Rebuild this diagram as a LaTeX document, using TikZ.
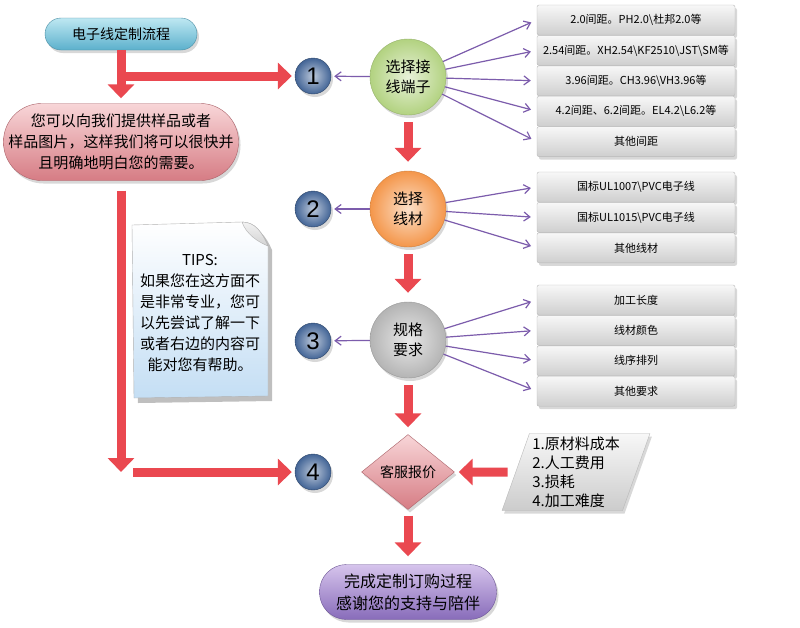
\documentclass[tikz,border=0pt]{standalone}
\usepackage{fontspec}
\setmainfont{Noto Sans CJK SC}
\newfontfamily\numfont{Liberation Sans}
\usetikzlibrary{arrows.meta, positioning, shapes.geometric, shapes.misc, shadows}

\definecolor{arrowred}{RGB}{234,72,80}
\definecolor{linkviolet}{RGB}{124,92,172}
\definecolor{titletop}{RGB}{190,232,242}
\definecolor{titlebot}{RGB}{92,176,204}
\definecolor{notetop}{RGB}{248,214,216}
\definecolor{notebot}{RGB}{214,124,132}
\definecolor{donetop}{RGB}{214,196,236}
\definecolor{donebot}{RGB}{136,108,186}
\definecolor{stagegreen}{RGB}{178,210,128}
\definecolor{stageorange}{RGB}{244,150,74}
\definecolor{stagegray}{RGB}{180,180,180}
\definecolor{numblue}{RGB}{66,100,150}
\definecolor{tipblue}{RGB}{196,222,244}

\begin{document}
\begin{tikzpicture}[x=1pt, y=-1pt,
  softshadow/.style={drop shadow={opacity=0.3, shadow xshift=2pt, shadow yshift=-3pt}},
  pill/.style={rectangle, rounded corners=#1, align=center, inner sep=0pt, softshadow},
  num/.style={circle, minimum size=36pt, inner sep=0pt, inner color=numblue!35!white,
    outer color=numblue, draw=numblue!70!black, softshadow,
    text=black, font=\numfont\fontsize{24}{24}\selectfont},
  stage/.style={circle, minimum size=76pt, inner sep=0pt, inner color=#1!30!white,
    outer color=#1, draw=#1!85!black, softshadow, align=center,
    font=\fontsize{15}{20}\selectfont},
  item/.style={rectangle, rounded corners=2pt, minimum width=198pt, minimum height=30pt,
    inner sep=0pt, top color=gray!6, bottom color=gray!38, draw=gray!55, softshadow,
    font=\fontsize{11}{12}\selectfont},
  redarrow/.style={line width=9pt, draw=arrowred, -{Triangle[width=26pt, length=14pt]}},
  pointer/.style={line width=1.2pt, draw=linkviolet, -{Straight Barb[width=9pt, length=6pt]}}
]
\useasboundingbox[fill=white] (0,0) rectangle (800,627);

\node[pill=16pt, minimum width=152pt, minimum height=32pt, top color=titletop,
  bottom color=titlebot, draw=titlebot!80!black, font=\fontsize{14}{17}\selectfont]
  (title) at (121,34) {电子线定制流程};
\node[pill=38pt, minimum width=235pt, minimum height=77pt, top color=notetop,
  bottom color=notebot, draw=notebot!80!black, font=\fontsize{15}{21}\selectfont]
  (pill) at (121,142) {您可以向我们提供样品或者\\样品图片，这样我们将可以很快并\\且明确地明白您的需要。};

% tips sheet
\begin{scope}
  \fill[black, opacity=0.25] (136,228) -- (245,226) .. controls (258,226) and (266,236) .. (272,250)
    -- (272,401) -- (138,403) -- cycle;
  \shade[top color=white, bottom color=tipblue, draw=gray!60] (132,225) -- (242,222)
    .. controls (255,222) and (262,232) .. (268,246) -- (268,396) -- (134,398) -- cycle;
  \shade[top color=gray!10, bottom color=gray!35, draw=gray!60] (242,222)
    .. controls (246,234) and (258,242) .. (268,246) .. controls (262,232) and (255,222) .. (242,222);
\end{scope}
\node[align=center, font=\fontsize{15}{21}\selectfont] (tips) at (200,313)
  {TIPS:\\如果您在这方面不\\是非常专业，您可\\以先尝试了解一下\\或者右边的内容可\\能对您有帮助。};

\node[num] (n1) at (313,76) {1};
\node[num] (n2) at (313,209) {2};
\node[num] (n3) at (313,341) {3};
\node[num] (n4) at (313,472) {4};

\node[stage=stagegreen] (c1) at (408,77) {选择接\\线端子};
\node[stage=stageorange] (c2) at (408,209) {选择\\线材};
\node[stage=stagegray] (c3) at (408,340) {规格\\要求};
\node[diamond, aspect=1.24, minimum width=93pt, minimum height=75pt, inner sep=0pt,
  top color=notetop, bottom color=notebot, draw=notebot!80!black, softshadow,
  font=\fontsize{14}{17}\selectfont] (quote) at (408,472) {客服报价};
\node[trapezium, trapezium left angle=70, trapezium right angle=110, trapezium stretches=true,
  minimum width=148pt, minimum height=77pt, inner sep=0pt, top color=gray!6,
  bottom color=gray!40, draw=gray!55, softshadow, align=left,
  font=\fontsize{15}{19}\selectfont] (cost) at (576,472)
  {1.原材料成本\\2.人工费用\\3.损耗\\4.加工难度};
\node[pill=27pt, minimum width=177pt, minimum height=55pt, top color=donetop,
  bottom color=donebot, draw=donebot!80!black, font=\fontsize{16}{22}\selectfont]
  (done) at (408,592) {完成定制订购过程\\感谢您的支持与陪伴};

\node[item] (t1) at (636,20) {2.0间距。PH2.0\textbackslash 杜邦2.0等};
\node[item, below=0pt of t1] (t2) {2.54间距。XH2.54\textbackslash KF2510\textbackslash JST\textbackslash SM等};
\node[item, below=0pt of t2] (t3) {3.96间距。CH3.96\textbackslash VH3.96等};
\node[item, below=0pt of t3] (t4) {4.2间距、6.2间距。EL4.2\textbackslash L6.2等};
\node[item, below=0pt of t4] (t5) {其他间距};

\node[item] (w1) at (636,187) {国标UL1007\textbackslash PVC电子线};
\node[item, below=0pt of w1] (w2) {国标UL1015\textbackslash PVC电子线};
\node[item, below=0pt of w2] (w3) {其他线材};

\node[item] (s1) at (636,300) {加工长度};
\node[item, below=0pt of s1] (s2) {线材颜色};
\node[item, below=0pt of s2] (s3) {线序排列};
\node[item, below=0pt of s3] (s4) {其他要求};

\coordinate (split) at (124,76);
\coordinate (turn) at (121,472);

\draw[redarrow, shorten >=5pt] (title) -- (pill);
\draw[redarrow, shorten >=3pt] (split) -- (n1);
\draw[redarrow, shorten <=10pt] (pill) -- (turn);
\draw[redarrow, shorten <=12pt, shorten >=3pt] (turn) -- (n4);
\draw[redarrow, shorten <=7pt, shorten >=9pt] (c1) -- (c2);
\draw[redarrow, shorten <=7pt, shorten >=9pt] (c2) -- (c3);
\draw[redarrow, shorten <=7pt, shorten >=7pt] (c3) -- (quote);
\draw[redarrow, shorten <=6pt, shorten >=8pt] (quote) -- (done);
\draw[redarrow, shorten <=8pt, shorten >=4pt] (cost) -- (quote);

\foreach \i in {1,...,5} \draw[pointer, shorten >=6pt] (c1) -- (t\i.west);
\foreach \i in {1,2,3} \draw[pointer, shorten >=6pt] (c2) -- (w\i.west);
\foreach \i in {1,...,4} \draw[pointer, shorten >=6pt] (c3) -- (s\i.west);
\draw[pointer, shorten >=3pt] (c1) -- (n1);
\draw[pointer, shorten >=3pt] (c2) -- (n2);
\draw[pointer, shorten >=3pt] (c3) -- (n3);
\end{tikzpicture}
\end{document}
